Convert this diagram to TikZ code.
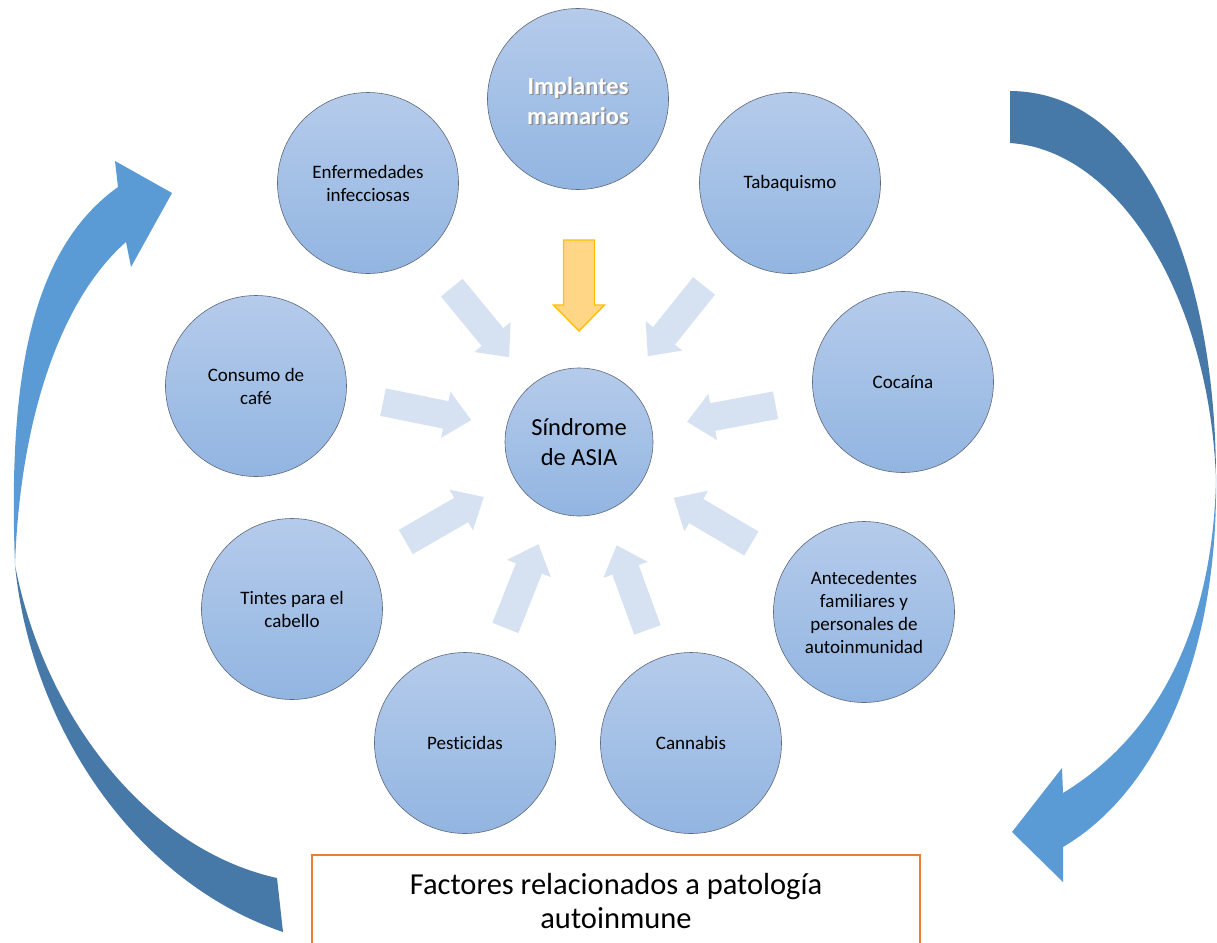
\documentclass[tikz,border=0pt]{standalone}
\usepackage{fontspec}
\setmainfont{Carlito}[Ligatures=NoCommon]
\definecolor{circtop}{RGB}{181,203,235}
\definecolor{circbot}{RGB}{146,181,225}
\definecolor{circline}{RGB}{95,105,122}
\definecolor{fadearrow}{RGB}{214,226,242}
\definecolor{yelfill}{RGB}{255,214,134}
\definecolor{yelline}{RGB}{255,192,0}
\definecolor{bigdark}{RGB}{70,120,168}
\definecolor{biglight}{RGB}{91,155,213}
\definecolor{boxline}{RGB}{237,125,49}
\newcommand\shtext[1]{\makebox[0pt][l]{\hspace*{1.4pt}\raisebox{-1.4pt}{\textcolor{black!45}{#1}}}\textcolor{white}{#1}}
\newcommand\fadedarrow[1]{%
  \begin{scope}[shift={(579,442)},rotate=#1]
    \fill[fadearrow] (200,14) -- (136,14) -- (136,23.5) -- (110,0) -- (136,-23.5) -- (136,-14) -- (200,-14) -- cycle;
  \end{scope}}
\tikzset{
  factor/.style={circle, minimum size=181, inner sep=0pt, top color=circtop, bottom color=circbot,
    draw=circline, line width=0.6pt, align=center, font=\fontsize{19}{23}\selectfont},
  core/.style={factor, minimum size=148, font=\fontsize{24.5}{30}\selectfont},
  implant/.style={factor, font=\fontsize{24.5}{30}\selectfont\bfseries},
  bigbox/.style={draw=boxline, line width=1.4pt, minimum width=608, minimum height=92, inner sep=0pt,
    align=center, font=\fontsize{30.5}{33.5}\selectfont}
}
\begin{document}
\begin{tikzpicture}[x=1pt,y=-1pt]
\useasboundingbox (0,0) rectangle (1217,942);
\fill[white] (0,0) rectangle (1217,942);

% big curved arrows
\fill[biglight] (15,565) .. controls (8,380) and (30,250) .. (118,187) -- (115,161) -- (172,193) -- (131,267) -- (126,242) .. controls (60,300) and (20,420) .. (15,565) -- cycle;
\fill[bigdark] (15,565) .. controls (30,720) and (130,880) .. (283,932) -- (277,878) .. controls (150,850) and (45,720) .. (15,565) -- cycle;
\fill[bigdark] (1010,91) .. controls (1150,92) and (1216,280) .. (1216,480) .. controls (1210,300) and (1120,150) .. (1010,143) -- cycle;
\fill[biglight] (1216,480) .. controls (1218,650) and (1160,790) .. (1063,847) -- (1063,882) -- (1012,832) -- (1062,768) -- (1063,793) .. controls (1150,740) and (1212,640) .. (1216,480) -- cycle;

% faded arrows towards the centre
\fadedarrow{129.5}
\fadedarrow{51.3}
\fadedarrow{168.5}
\fadedarrow{10.6}
\fadedarrow{210}
\fadedarrow{329.5}
\fadedarrow{248.4}
\fadedarrow{290}
\begin{scope}[shift={(579,442)},rotate=90]
  \filldraw[fill=yelfill, draw=yelline, line width=1.4pt, line join=miter]
    (202,15.5) -- (137,15.5) -- (137,25.5) -- (111,0) -- (137,-25.5) -- (137,-15.5) -- (202,-15.5) -- cycle;
\end{scope}

% circles
\node[implant, text depth=0pt] (implantes) at (578,99) {\raisebox{-3pt}{\shtext{Implantes}}\\\raisebox{-3pt}{\shtext{mamarios}}};
\node[factor] (enfermedades) at (368,183) {Enfermedades\\infecciosas};
\node[factor] (tabaquismo) at (790,183) {Tabaquismo};
\node[factor] (cafe) at (256,386) {Consumo de\\café};
\node[factor] (cocaina) at (903,382) {Cocaína};
\node[factor] (tintes) at (292,609) {Tintes para el\\cabello};
\node[factor] (antecedentes) at (864,612) {Antecedentes\\familiares y\\personales de\\autoinmunidad};
\node[factor] (pesticidas) at (465,743) {Pesticidas};
\node[factor] (cannabis) at (691,743) {Cannabis};
\node[core] (asia) at (579,442) {Síndrome\\de ASIA};

% bottom box
\begin{scope}
  \clip (0,0) rectangle (1217,942);
  \node[bigbox] (factores) at (616,901) {Factores relacionados a patología\\autoinmune};
\end{scope}
\end{tikzpicture}
\end{document}
